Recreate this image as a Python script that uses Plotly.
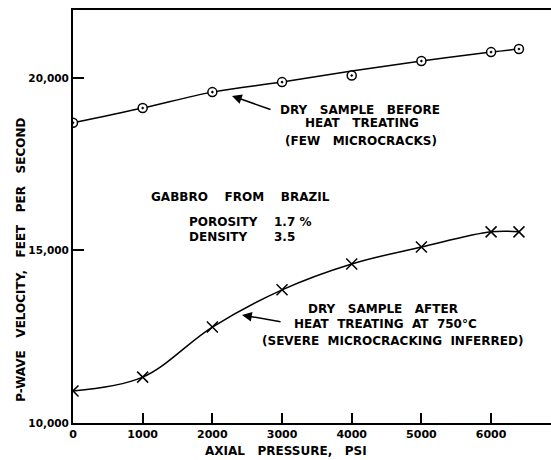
"""
P-wave velocity vs axial pressure, gabbro from Brazil.
"""

import plotly.graph_objects as go

# Axial pressure, psi
pressure = [0, 1000, 2000, 3000, 4000, 5000, 6000, 6400]

# Dry sample before heat treating (measured points and drawn curve)
vel_before = [18700, 19130, 19590, 19880, 20070, 20490, 20750, 20840]
curve_before = [18700, 19130, 19590, 19880, 20200, 20490, 20750, 20840]

# Dry sample after heat treating at 750 C
vel_after = [10930, 11330, 12780, 13860, 14610, 15100, 15540, 15540]

x_ticks = [0, 1000, 2000, 3000, 4000, 5000, 6000]
x_ticklabels = ["0", "1000", "2000", "3000", "4000", "5000", "6000"]
y_ticks = [10000, 15000, 20000]
y_ticklabels = ["10,000", "15,000", "20,000"]

FONT = "DejaVu Sans"
SP = "\u00a0"


def spaced(text, n=4):
    # wide word gaps like the original lettering
    return text.replace(" ", SP * n)


fig = go.Figure()

# curves
fig.add_trace(
    go.Scatter(
        x=pressure,
        y=curve_before,
        mode="lines",
        line=dict(color="black", width=1.5, shape="spline"),
        hoverinfo="skip",
    )
)
fig.add_trace(
    go.Scatter(
        x=pressure,
        y=vel_after,
        mode="lines",
        line=dict(color="black", width=1.5, shape="spline"),
        hoverinfo="skip",
    )
)

# points
fig.add_trace(
    go.Scatter(
        x=pressure,
        y=vel_before,
        mode="markers",
        marker=dict(
            symbol="circle-dot",
            size=9,
            color="white",
            line=dict(color="black", width=1.5),
        ),
        name="Before heat treating",
    )
)
fig.add_trace(
    go.Scatter(
        x=pressure,
        y=vel_after,
        mode="markers",
        marker=dict(
            symbol="x-thin-open",
            size=11,
            color="black",
            line=dict(color="black", width=1.5),
        ),
        name="After heat treating",
    )
)

txt_font = dict(family=FONT, size=12, color="black", weight="bold")

annotations = []


def label(text, x, y, xanchor="center"):
    annotations.append(
        dict(
            text=text,
            x=x,
            y=y,
            xref="x",
            yref="y",
            xanchor=xanchor,
            yanchor="middle",
            showarrow=False,
            font=txt_font,
        )
    )


def arrow(x, y, ax, ay):
    annotations.append(
        dict(
            text="",
            x=x,
            y=y,
            ax=ax,
            ay=ay,
            xref="x",
            yref="y",
            axref="x",
            ayref="y",
            showarrow=True,
            arrowhead=2,
            arrowsize=1.3,
            arrowwidth=1.5,
            arrowcolor="black",
        )
    )


# upper curve label
label(spaced("DRY SAMPLE BEFORE", 3), 4120, 19072)
label(spaced("HEAT TREATING", 3), 4150, 18696)
label(spaced("(FEW MICROCRACKS)", 3), 4135, 18174)
arrow(2282, 19478, 2856, 19072)

# sample description
label(spaced("GABBRO FROM BRAZIL"), 2397, 16551)
label("POROSITY", 1636, 15826, "left")
label("1.7 %", 2856, 15826, "left")
label("DENSITY", 1636, 15391, "left")
label("3.5", 2856, 15391, "left")

# lower curve label
label(spaced("DRY SAMPLE AFTER", 3), 4450, 13304)
label(spaced("HEAT TREATING AT 750°C", 2), 4478, 12870)
label(spaced("(SEVERE MICROCRACKING INFERRED)", 2), 4579, 12377)
arrow(2426, 13130, 3000, 12928)

# axis titles
annotations.append(
    dict(
        text=spaced("P-WAVE VELOCITY, FEET PER SECOND", 3),
        xref="paper",
        yref="paper",
        x=0,
        y=0.395,
        xanchor="center",
        yanchor="middle",
        xshift=-52,
        textangle=-90,
        showarrow=False,
        font=txt_font,
    )
)
annotations.append(
    dict(
        text=spaced("AXIAL PRESSURE, PSI", 3),
        xref="paper",
        yref="paper",
        x=0.446,
        y=0,
        xanchor="center",
        yanchor="middle",
        yshift=-28,
        showarrow=False,
        font=txt_font,
    )
)

fig.update_xaxes(
    range=[0, 6860],
    tickvals=x_ticks,
    ticktext=x_ticklabels,
    ticks="inside",
    ticklen=10,
    tickwidth=1.5,
    tickcolor="black",
    showline=True,
    linecolor="black",
    linewidth=2,
    mirror=True,
    showgrid=False,
    zeroline=False,
    tickfont=dict(family=FONT, size=11, color="black", weight="bold"),
)
fig.update_yaxes(
    range=[10000, 21970],
    tickvals=y_ticks,
    ticktext=y_ticklabels,
    ticks="inside",
    ticklen=11,
    tickwidth=1.5,
    tickcolor="black",
    showline=True,
    linecolor="black",
    linewidth=2,
    showgrid=False,
    zeroline=False,
    tickfont=dict(family=FONT, size=10.5, color="black", weight="bold"),
)

fig.update_layout(
    width=551,
    height=460,
    margin=dict(l=73, r=0, t=10, b=37),
    plot_bgcolor="white",
    paper_bgcolor="white",
    showlegend=False,
    annotations=annotations,
)

# drop the default body margin so the figure fills the window
fig.write_html(
    "out.html",
    config={"displayModeBar": False},
    post_script="document.body.style.margin = '0';",
)
